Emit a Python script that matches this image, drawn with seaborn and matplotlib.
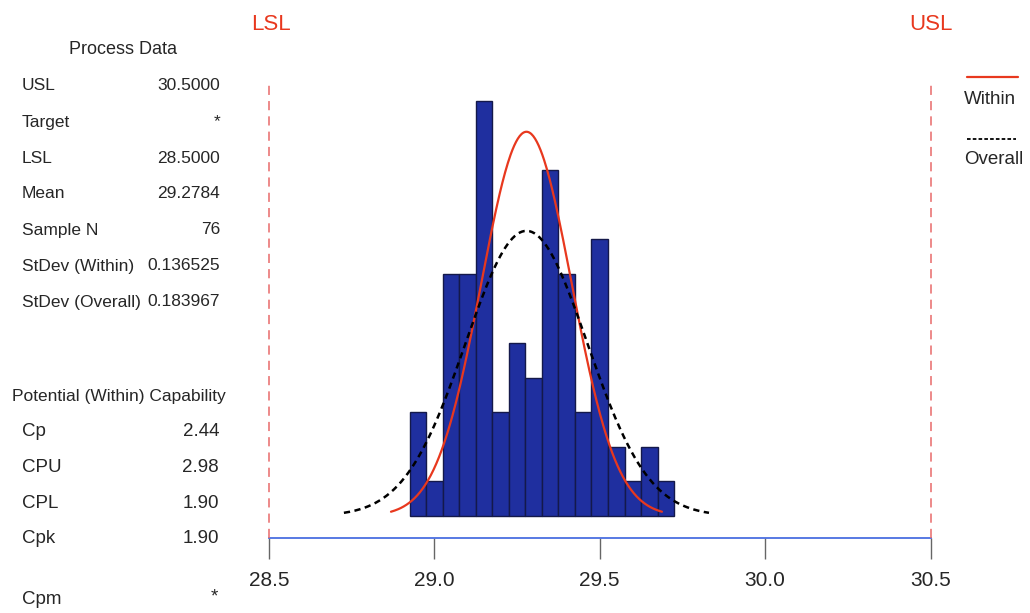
import numpy as np
import pandas as pd
import matplotlib
matplotlib.use("Agg")
import matplotlib.pyplot as plt
from matplotlib.lines import Line2D
import seaborn as sns

# ---------------- data ----------------
bin_centers = [28.95, 29.00, 29.05, 29.10, 29.15, 29.20, 29.25, 29.30,
               29.35, 29.40, 29.45, 29.50, 29.55, 29.60, 29.65, 29.70]
bin_counts = [3, 1, 7, 7, 12, 3, 5, 4, 10, 7, 3, 8, 2, 1, 2, 1]
bin_width = 0.05

usl = 30.5
lsl = 28.5
mean = 29.2784
n_samples = 76
sd_within = 0.136525
sd_overall = 0.183967

x_ticks = [28.5, 29.0, 29.5, 30.0, 30.5]
x_tick_labels = ["28.5", "29.0", "29.5", "30.0", "30.5"]

process_rows = [("USL", "30.5000"), ("Target", "*"), ("LSL", "28.5000"),
                ("Mean", "29.2784"), ("Sample N", "76"),
                ("StDev (Within)", "0.136525"), ("StDev (Overall)", "0.183967")]
capability_rows = [("Cp", "2.44"), ("CPU", "2.98"), ("CPL", "1.90"), ("Cpk", "1.90")]
cpm_row = ("Cpm", "*")

# ---------------- style ----------------
sns.set_theme(style="white")
plt.rcParams['font.family'] = ['Liberation Sans', 'DejaVu Sans']

W, H = 1030, 613
fig = plt.figure(figsize=(W / 100, H / 100), dpi=100)

def fx(px):
    return px / W

def fy(py):
    return 1 - py / H

ax_left, ax_right, ax_top, ax_bottom = 269, 930.5, 80, 538
ax = fig.add_axes([fx(ax_left), fy(ax_bottom), fx(ax_right - ax_left), (ax_bottom - ax_top) / H])

bar_color = "#1f2f9f"
red = "#e8381e"

edges = list(np.array(bin_centers) - bin_width / 2) + [bin_centers[-1] + bin_width / 2]
sns.histplot(x=bin_centers, weights=bin_counts, bins=edges, ax=ax,
             color=bar_color, alpha=1.0, edgecolor="#14194a", linewidth=1.0)

def normal_curve(sd):
    xs = np.linspace(mean - 3 * sd, mean + 3 * sd, 300)
    ys = n_samples * bin_width * np.exp(-0.5 * ((xs - mean) / sd) ** 2) / (sd * np.sqrt(2 * np.pi))
    return pd.DataFrame({"x": xs, "y": ys})

dw = normal_curve(sd_within)
do = normal_curve(sd_overall)
sns.lineplot(data=dw, x="x", y="y", ax=ax, color=red, linewidth=1.6)
sns.lineplot(data=do, x="x", y="y", ax=ax, color="black", linewidth=1.8, linestyle=(0, (2.5, 1.8)))

for v in (lsl, usl):
    ax.axvline(v, color="#e86a6a", linewidth=1.1, linestyle=(0, (6, 4)), clip_on=False, zorder=3)

ax.set_xlim(lsl, usl)
ax.set_ylim(-0.636, 12.6)
ax.set_xticks(x_ticks)
ax.set_xticklabels(x_tick_labels, fontsize=15)
ax.set_yticks([])
ax.set_xlabel("")
ax.set_ylabel("")
for s in ("top", "left", "right"):
    ax.spines[s].set_visible(False)
ax.spines["bottom"].set_color("#4a6ee0")
ax.spines["bottom"].set_linewidth(1.3)
ax.tick_params(axis="x", direction="out", length=15, width=1.0, color="#666666", pad=9,
               bottom=True)
ax.set_facecolor("white")

# spec labels
fig.text(fx(251), fy(24), "LSL", color=red, fontsize=16, ha="left", va="center")
fig.text(fx(909), fy(24), "USL", color=red, fontsize=16, ha="left", va="center")

# legend
fig.add_artist(Line2D([fx(967), fx(1018)], [fy(77), fy(77)], color=red, linewidth=1.6))
fig.text(fx(964), fy(99), "Within", fontsize=13.5, ha="left", va="center")
fig.add_artist(Line2D([fx(967), fx(1016)], [fy(139), fy(139)], color="black",
                      linewidth=1.3, linestyle=(0, (2, 1.2))))
fig.text(fx(964), fy(160), "Overall", fontsize=13.5, ha="left", va="center")

# process data panel
fs = 12.5
fig.text(fx(123), fy(50), "Process Data", fontsize=13, ha="center", va="center")
for i, (lab, val) in enumerate(process_rows):
    y = 86 + 36 * i
    fig.text(fx(22), fy(y), lab, fontsize=fs, ha="left", va="center")
    fig.text(fx(220), fy(y), val, fontsize=fs, ha="right", va="center")

fig.text(fx(12), fy(396), "Potential (Within) Capability", fontsize=fs, ha="left", va="center")
for i, (lab, val) in enumerate(capability_rows):
    y = 432 + 35.5 * i
    fig.text(fx(22), fy(y), lab, fontsize=13.5, ha="left", va="center")
    fig.text(fx(219), fy(y), val, fontsize=13.5, ha="right", va="center")
fig.text(fx(22), fy(599), cpm_row[0], fontsize=13.5, ha="left", va="center")
fig.text(fx(218), fy(597), cpm_row[1], fontsize=13.5, ha="right", va="center")

fig.savefig("out.png", dpi=100, facecolor="white")
